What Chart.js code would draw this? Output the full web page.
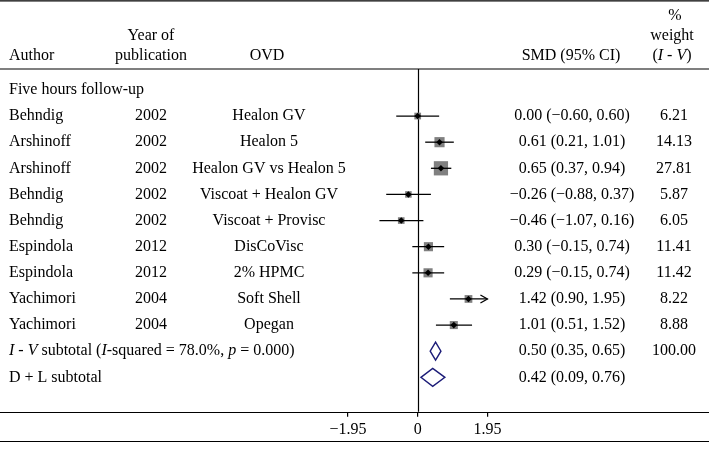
<!DOCTYPE html>
<html><head><meta charset="utf-8">
<script src="https://cdn.jsdelivr.net/npm/chart.js@4/dist/chart.umd.min.js"></script>
<style>html,body{margin:0;padding:0;background:#fff;}#wrap{width:709px;height:450px;}</style>
</head><body><div id="wrap"><canvas id="c" width="709" height="450"></canvas></div>
<script>
// ---- data ----
const groupTitle = 'Five hours follow-up';
const authors = ['Behndig','Arshinoff','Arshinoff','Behndig','Behndig','Espindola','Espindola','Yachimori','Yachimori'];
const years = ['2002','2002','2002','2002','2002','2012','2012','2004','2004'];
const ovds = ['Healon GV','Healon 5','Healon GV vs Healon 5','Viscoat + Healon GV','Viscoat + Provisc','DisCoVisc','2% HPMC','Soft Shell','Opegan'];
const smd = [0.00, 0.61, 0.65, -0.26, -0.46, 0.30, 0.29, 1.42, 1.01];
const ciLow = [-0.60, 0.21, 0.37, -0.88, -1.07, -0.15, -0.15, 0.90, 0.51];
const ciHigh = [0.60, 1.01, 0.94, 0.37, 0.16, 0.74, 0.74, 1.95, 1.52];
const weights = ['6.21','14.13','27.81','5.87','6.05','11.41','11.42','8.22','8.88'];
const subEst = [0.50, 0.42];
const subLow = [0.35, 0.09];
const subHigh = [0.65, 0.76];
const subWeights = ['100.00', ''];
const xTicks = [-1.95, 0, 1.95];

// ---- helpers ----
const FAMILY = '"Liberation Serif", "Times New Roman", serif';
const FS = 16;
const fmt = v => (v < 0 ? '\u2212' : '') + Math.abs(v).toFixed(2);
const ciText = (e, l, h) => fmt(e) + ' (' + fmt(l) + ', ' + fmt(h) + ')';
const studyRow = i => i + 2;          // row 1 = group title
const subRow = j => authors.length + 2 + j;

function drawRuns(ctx, runs, x, y, align) {
  ctx.textBaseline = 'middle';
  ctx.textAlign = 'left';
  const w = runs.map(r => { ctx.font = (r[1] ? 'italic ' : '') + FS + 'px ' + FAMILY; return ctx.measureText(r[0]).width; });
  const total = w.reduce((a, b) => a + b, 0);
  let sx = align === 'center' ? x - total / 2 : align === 'right' ? x - total : x;
  runs.forEach((r, i) => { ctx.font = (r[1] ? 'italic ' : '') + FS + 'px ' + FAMILY; ctx.fillText(r[0], sx, y); sx += w[i]; });
}
function txt(ctx, s, x, y, align) { drawRuns(ctx, [[s, false]], x, y, align); }

const COL = { author: 9, year: 151, ovd: 269, ci: 572, wt: 674 };

const forestPlugin = {
  id: 'forest',
  beforeDatasetsDraw(chart) {
    const ctx = chart.ctx, xs = chart.scales.x, ys = chart.scales.y;
    const xMax = xTicks[xTicks.length - 1], xMin = xTicks[0];
    ctx.save();
    // vertical zero line
    ctx.strokeStyle = '#000'; ctx.lineWidth = 1.2;
    const x0 = Math.round(xs.getPixelForValue(0)) + 0.5;
    ctx.beginPath(); ctx.moveTo(x0, ys.getPixelForValue(0.2)); ctx.lineTo(x0, chart.chartArea.bottom); ctx.stroke();
    // weight squares
    ctx.fillStyle = '#808080';
    smd.forEach((v, i) => {
      const s = 2.7 * Math.sqrt(parseFloat(weights[i]));
      const px = xs.getPixelForValue(v), py = ys.getPixelForValue(studyRow(i));
      ctx.fillRect(px - s / 2, py - s / 2, s, s);
    });
    // CI lines
    ctx.strokeStyle = '#000'; ctx.lineWidth = 1.3;
    smd.forEach((v, i) => {
      const py = ys.getPixelForValue(studyRow(i));
      const lo = Math.max(ciLow[i], xMin), hi = Math.min(ciHigh[i], xMax);
      const pl = xs.getPixelForValue(lo), ph = xs.getPixelForValue(hi);
      ctx.beginPath(); ctx.moveTo(pl, py); ctx.lineTo(ph, py); ctx.stroke();
      if (ciHigh[i] >= xMax) {
        ctx.beginPath(); ctx.moveTo(ph - 7, py - 4); ctx.lineTo(ph, py); ctx.lineTo(ph - 7, py + 4); ctx.stroke();
      }
    });
    // diamonds
    ctx.strokeStyle = '#1c1c78'; ctx.lineWidth = 1.4; ctx.fillStyle = '#fff';
    subEst.forEach((v, j) => {
      const py = ys.getPixelForValue(subRow(j));
      const pl = xs.getPixelForValue(subLow[j]), ph = xs.getPixelForValue(subHigh[j]), pc = xs.getPixelForValue(v);
      const hh = 9;
      ctx.beginPath(); ctx.moveTo(pl, py); ctx.lineTo(pc, py - hh); ctx.lineTo(ph, py); ctx.lineTo(pc, py + hh); ctx.closePath();
      ctx.fill(); ctx.stroke();
    });
    ctx.restore();
  },
  afterDraw(chart) {
    const ctx = chart.ctx, ys = chart.scales.y, xs = chart.scales.x;
    const W = chart.width;
    ctx.save();
    ctx.fillStyle = '#000';
    // table rules
    ctx.strokeStyle = '#000'; ctx.lineWidth = 1.2;
    const hline = y => { ctx.beginPath(); ctx.moveTo(0, y); ctx.lineTo(W, y); ctx.stroke(); };
    hline(0.8);
    hline(ys.getPixelForValue(0.2));
    hline(Math.round(chart.chartArea.bottom) + 0.5);
    hline(xs.bottom - 0.5);
    // headers
    const yTop = ys.getPixelForValue(-1.85), yMid = ys.getPixelForValue(-1.08), yBot = ys.getPixelForValue(-0.3);
    txt(ctx, 'Author', COL.author, yBot, 'left');
    txt(ctx, 'Year of', COL.year, yMid, 'center');
    txt(ctx, 'publication', COL.year, yBot, 'center');
    txt(ctx, 'OVD', COL.ovd - 2, yBot, 'center');
    txt(ctx, 'SMD (95% CI)', COL.ci - 1, yBot, 'center');
    txt(ctx, '%', COL.wt + 1, yTop, 'center');
    txt(ctx, 'weight', COL.wt - 2, yMid, 'center');
    drawRuns(ctx, [['(', false], ['I', true], [' - ', false], ['V', true], [')', false]], COL.wt - 2, yBot, 'center');
    // group title
    txt(ctx, groupTitle, COL.author, ys.getPixelForValue(1), 'left');
    // study rows
    authors.forEach((a, i) => {
      const y = ys.getPixelForValue(studyRow(i));
      txt(ctx, a, COL.author, y, 'left');
      txt(ctx, years[i], COL.year, y, 'center');
      txt(ctx, ovds[i], COL.ovd, y, 'center');
      txt(ctx, ciText(smd[i], ciLow[i], ciHigh[i]), COL.ci, y, 'center');
      txt(ctx, weights[i], COL.wt, y, 'center');
    });
    // subtotals
    const y1 = ys.getPixelForValue(subRow(0)), y2 = ys.getPixelForValue(subRow(1));
    drawRuns(ctx, [['I', true], [' - ', false], ['V', true], [' subtotal (', false], ['I', true], ['-squared = 78.0%, ', false], ['p', true], [' = 0.000)', false]], COL.author, y1, 'left');
    txt(ctx, 'D + L subtotal', COL.author, y2, 'left');
    [y1, y2].forEach((y, j) => {
      txt(ctx, ciText(subEst[j], subLow[j], subHigh[j]), COL.ci, y, 'center');
      if (subWeights[j]) txt(ctx, subWeights[j], COL.wt, y, 'center');
    });
    ctx.restore();
  }
};

new Chart(document.getElementById('c'), {
  type: 'scatter',
  data: { datasets: [{
    data: smd.map((v, i) => ({ x: v, y: studyRow(i) })),
    pointStyle: 'rectRot', radius: 3.3, hoverRadius: 3.3,
    backgroundColor: '#000', borderColor: '#000', borderWidth: 0
  }]},
  options: {
    responsive: false, animation: false, events: [],
    layout: { padding: { top: 0, left: 0, right: 0, bottom: 8 } },
    plugins: { legend: { display: false }, tooltip: { enabled: false } },
    scales: {
      x: {
        type: 'linear', min: -11.587, max: 8.053,
        afterBuildTicks: s => { s.ticks = xTicks.map(v => ({ value: v })); },
        grid: { drawOnChartArea: false, drawTicks: true, tickLength: 5, color: '#000', tickColor: '#000', lineWidth: 1.2 },
        border: { display: false },
        ticks: { font: { family: FAMILY, size: FS }, color: '#000', padding: 3, autoSkip: false, maxRotation: 0,
                 callback: v => v === 0 ? '0' : fmt(v) }
      },
      y: { type: 'linear', display: false, reverse: true, min: -2.315, max: 13.319 }
    }
  },
  plugins: [forestPlugin]
});
</script>
</body></html>
